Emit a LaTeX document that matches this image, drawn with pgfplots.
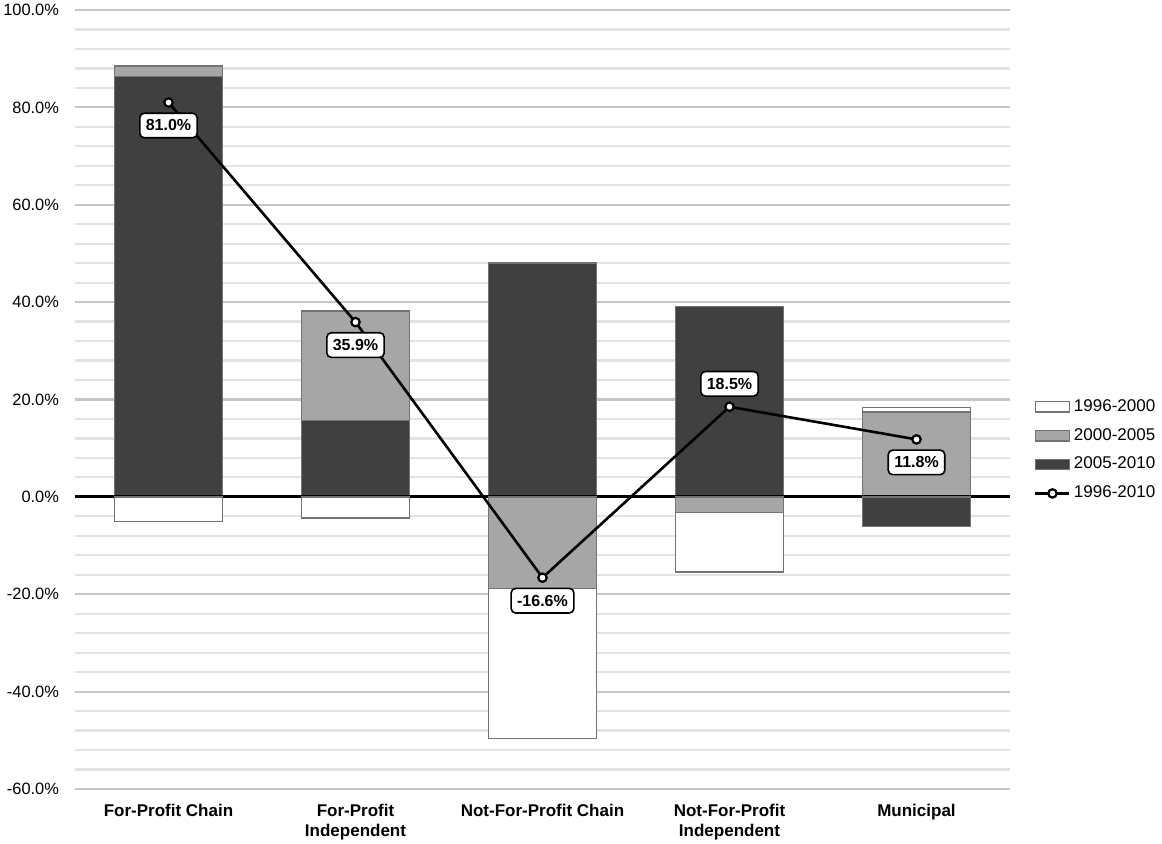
\documentclass[border=0pt]{standalone}
\usepackage{fontspec}
\setmainfont{Liberation Sans}
\usepackage{pgfplots}
\usepackage{pgfplotstable}
\pgfplotsset{compat=1.18}
\definecolor{darkbar}{HTML}{404040}
\definecolor{graybar}{HTML}{A6A6A6}
\definecolor{gridmaj}{HTML}{C6C6C6}
\definecolor{gridmin}{HTML}{E3E3E3}

\pgfplotstableread{
x y dy
0 81.0 -11.5
1 35.9 -11.5
2 -16.6 -11.5
3 18.5 11.5
4 11.8 -11.5
}\linedata

\pgfplotsset{
  base/.style={
    width=467.5pt, height=389.5pt, scale only axis,
    at={(0,0)}, anchor=south west,
    xmin=-0.5, xmax=4.5, ymin=-60, ymax=100,
    /pgf/number format/assume math mode=true,
  },
  barstyle/.style={draw=black!55, line width=0.7pt},
  boxlegend/.style={legend image code/.code={\draw[##1] (0pt,-2.6pt) rectangle (17pt,2.6pt);}},
  linelegend/.style={legend image code/.code={\draw[black, line width=1.3pt] (0pt,0pt) -- (17pt,0pt); \draw[black, line width=1.1pt, fill=white] (8.5pt,0pt) circle (2.1pt);}},
}

\begin{document}
\begin{tikzpicture}
\useasboundingbox (-37.5pt,-27.5pt) rectangle (543.5pt,394.5pt);
% axis 1: grid, labels, positive parts
\begin{axis}[base, ybar stacked, bar width=0.575,
  axis line style={draw=none},
  tick style={draw=none},
  ytick={-60,-40,...,100},
  minor y tick num=4,
  ymajorgrids, yminorgrids,
  major grid style={gridmaj, line width=1.1pt},
  minor grid style={gridmin, line width=1.1pt},
  yticklabel={\pgfmathprintnumber[fixed,fixed zerofill,precision=1]{\tick}\%},
  yticklabel style={font=\fontsize{8.2}{9.8}\selectfont, xshift=-4.5pt},
  xtick={0,1,2,3,4},
  xticklabels={For-Profit Chain, {For-Profit\\Independent}, Not-For-Profit Chain, {Not-For-Profit\\Independent}, Municipal},
  xticklabel style={font=\bfseries\fontsize{8.5}{10}\selectfont, align=center, yshift=-4pt},
]
\addplot[barstyle, fill=darkbar] coordinates {(0,86.3) (1,15.7) (2,48.0) (3,39.1) (4,0)};
\addplot[barstyle, fill=graybar] coordinates {(0,2.2) (1,22.5) (2,0) (3,0) (4,17.4)};
\addplot[barstyle, fill=white] coordinates {(0,0) (1,0) (2,0) (3,0) (4,0.9)};
\end{axis}
% axis 2: negative parts
\begin{axis}[base, ybar stacked, bar width=0.575, hide axis]
\addplot[barstyle, fill=darkbar] coordinates {(0,0) (1,0) (2,0) (3,0) (4,-6.1)};
\addplot[barstyle, fill=graybar] coordinates {(0,0) (1,0) (2,-18.8) (3,-3.2) (4,0)};
\addplot[barstyle, fill=white] coordinates {(0,-5.1) (1,-4.3) (2,-30.8) (3,-12.2) (4,0)};
\draw[black, line width=1.5pt] (axis cs:-0.5,0) -- (axis cs:4.5,0);
\end{axis}
% axis 3: line and legend
\begin{axis}[base, hide axis,
  legend style={at={(1.019,0.435)}, anchor=west, draw=none, fill=none,
    font=\fontsize{8.5}{10}\selectfont, row sep=3pt,
    nodes={inner xsep=1.6pt}},
  legend cell align=left,
]
\addlegendimage{barstyle, fill=white, boxlegend}
\addlegendentry{1996-2000}
\addlegendimage{barstyle, fill=graybar, boxlegend}
\addlegendentry{2000-2005}
\addlegendimage{barstyle, fill=darkbar, boxlegend}
\addlegendentry{2005-2010}
\addlegendimage{linelegend}
\addlegendentry{1996-2010}
\addplot[forget plot, black, line width=1.3pt, mark=*,
  mark options={fill=white, draw=black, line width=1.1pt}, mark size=2.1pt,
  visualization depends on={\thisrow{dy} \as \dy},
  nodes near coords={\pgfmathprintnumber[fixed,fixed zerofill,precision=1]{\pgfplotspointmeta}\%},
  every node near coord/.append style={font=\bfseries\fontsize{8}{9.5}\selectfont,
    fill=white, draw=black, line width=0.8pt, rounded corners=2.2pt,
    inner xsep=3pt, inner ysep=3.3pt, anchor=center, yshift=\dy pt},
] table[x=x, y=y] {\linedata};
\end{axis}
\end{tikzpicture}
\end{document}
